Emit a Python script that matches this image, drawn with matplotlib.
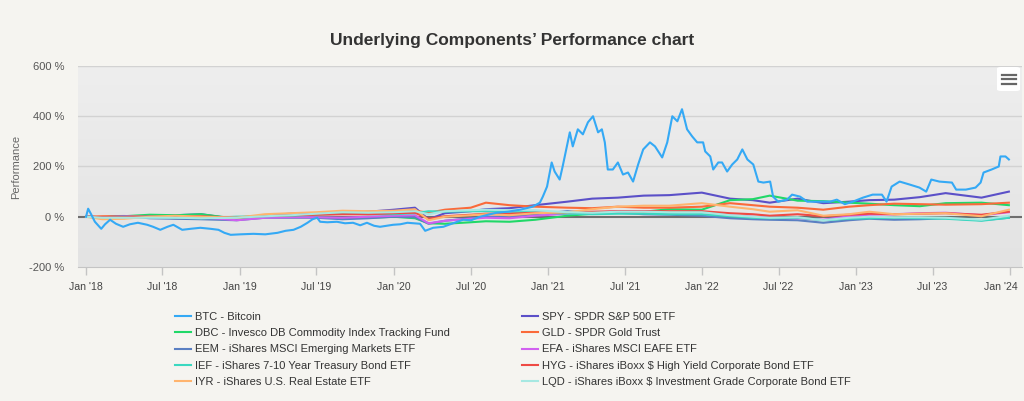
import numpy as np
import pandas as pd
import matplotlib
matplotlib.use("Agg")
import matplotlib.pyplot as plt
import matplotlib.dates as mdates
import matplotlib.transforms as mtransforms
from matplotlib.patches import FancyBboxPatch
from matplotlib.lines import Line2D

plt.rcParams["font.family"] = ["Liberation Sans", "DejaVu Sans"]

title = "Underlying Components\u2019 Performance chart"
y_label = "Performance"
y_ticks = [-200, 0, 200, 400, 600]

# Bitcoin (% since Jan 2018)
btc_dates = [
    "2018-01-01", "2018-01-06", "2018-01-13", "2018-01-22", "2018-02-06", "2018-02-15",
    "2018-02-27", "2018-03-13", "2018-03-30", "2018-04-15", "2018-05-04", "2018-05-26",
    "2018-06-09", "2018-06-26", "2018-07-13", "2018-07-27", "2018-08-17", "2018-09-06",
    "2018-09-29", "2018-10-23", "2018-11-11", "2018-11-25", "2018-12-10", "2019-01-02",
    "2019-02-02", "2019-03-02", "2019-03-31", "2019-04-19", "2019-05-08", "2019-05-25",
    "2019-06-10", "2019-06-22", "2019-07-03", "2019-07-10", "2019-07-27", "2019-08-19",
    "2019-09-07", "2019-09-26", "2019-10-13", "2019-10-29", "2019-11-15", "2019-11-29",
    "2019-12-30", "2020-01-16", "2020-02-02", "2020-02-16", "2020-03-03", "2020-03-15",
    "2020-04-03", "2020-04-27", "2020-05-20", "2020-06-13", "2020-07-02", "2020-07-23",
    "2020-08-16", "2020-09-01", "2020-09-27", "2020-10-26", "2020-11-25", "2020-12-12",
    "2020-12-19", "2020-12-29", "2021-01-09", "2021-01-16", "2021-01-28", "2021-02-04",
    "2021-02-14", "2021-02-21", "2021-02-28", "2021-03-12", "2021-03-24", "2021-04-05",
    "2021-04-17", "2021-04-29", "2021-05-08", "2021-05-15", "2021-05-22", "2021-06-03",
    "2021-06-15", "2021-06-27", "2021-07-09", "2021-07-21", "2021-08-02", "2021-08-14",
    "2021-08-30", "2021-09-11", "2021-09-28", "2021-10-10", "2021-10-22", "2021-11-03",
    "2021-11-14", "2021-11-26", "2021-12-08", "2021-12-20", "2022-01-03", "2022-01-08",
    "2022-01-20", "2022-01-27", "2022-02-08", "2022-02-17", "2022-03-01", "2022-03-13",
    "2022-03-25", "2022-04-06", "2022-04-18", "2022-05-02", "2022-05-14", "2022-05-26",
    "2022-06-11", "2022-06-18", "2022-06-30", "2022-07-21", "2022-08-02", "2022-08-21",
    "2022-09-07", "2022-10-07", "2022-10-31", "2022-11-16", "2022-12-05", "2022-12-24",
    "2023-01-17", "2023-02-09", "2023-03-03", "2023-03-14", "2023-03-26", "2023-04-14",
    "2023-05-08", "2023-05-31", "2023-06-16", "2023-06-28", "2023-07-17", "2023-08-16",
    "2023-08-26", "2023-09-18", "2023-10-11", "2023-10-23", "2023-10-30", "2023-11-18",
    "2023-12-05", "2023-12-09", "2023-12-21", "2023-12-29",
]
btc_values = [
    0, 32, 10, -20, -48, -30,
    -12, -28, -40, -30, -24, -32,
    -40, -52, -40, -32, -52, -48,
    -44, -48, -52, -64, -72, -70,
    -68, -70, -64, -56, -52, -40,
    -24, -10, -4, -20, -22, -20,
    -26, -24, -34, -24, -36, -40,
    -32, -30, -24, -26, -28, -56,
    -44, -40, -26, -12, -14, 0,
    10, 16, 20, 28, 40, 56,
    80, 120, 216, 180, 148, 200,
    280, 336, 280, 348, 328, 376,
    400, 336, 348, 296, 188, 188,
    216, 168, 176, 140, 208, 268,
    296, 280, 236, 296, 400, 380,
    428, 348, 320, 296, 296, 260,
    240, 188, 216, 216, 180, 208,
    228, 268, 228, 208, 140, 136,
    140, 80, 60, 68, 88, 80,
    60, 60, 60, 68, 50, 60,
    76, 88, 88, 60, 120, 140,
    128, 116, 100, 148, 140, 136,
    108, 108, 116, 136, 176, 188,
    200, 240, 240, 228,
]

# ETFs on a coarser common date grid
etf_dates = [
    "2018-01-01", "2018-02-09", "2018-04-01", "2018-06-01", "2018-08-01", "2018-10-01",
    "2018-12-24", "2019-03-01", "2019-05-01", "2019-07-01", "2019-09-01", "2019-11-01",
    "2020-01-01", "2020-02-20", "2020-03-23", "2020-05-01", "2020-07-01", "2020-08-06",
    "2020-10-01", "2020-12-01", "2021-02-15", "2021-04-15", "2021-06-15", "2021-08-15",
    "2021-10-15", "2021-12-31", "2022-03-08", "2022-05-01", "2022-06-10", "2022-08-15",
    "2022-10-15", "2022-12-15", "2023-02-01", "2023-04-01", "2023-06-01", "2023-08-01",
    "2023-10-25", "2023-12-29",
]
spy_values = [0, -2, -2, 2, 6, 10, -10, 6, 12, 14, 14, 20, 28, 36, -10, 14, 22, 30, 34,
              46, 60, 72, 76, 84, 86, 96, 72, 66, 56, 72, 54, 60, 66, 68, 78, 94, 76, 100]
dbc_values = [0, -2, 2, 8, 6, 10, -8, 0, 2, -2, -6, -4, 0, -6, -26, -28, -22, -18, -20,
              -12, 4, 12, 20, 20, 30, 28, 66, 70, 84, 64, 62, 56, 52, 46, 42, 54, 56, 46]
gld_values = [0, 2, 3, 0, -6, -7, -2, 2, 0, 10, 18, 16, 18, 24, 16, 28, 36, 56, 46,
              40, 36, 34, 40, 36, 36, 40, 54, 46, 40, 36, 28, 40, 46, 52, 50, 48, 50, 56]
eem_values = [0, -2, 2, -6, -8, -10, -14, -4, -4, -4, -10, -6, 0, -2, -28, -16, -6, 0, 2,
              10, 22, 16, 16, 10, 8, 4, -6, -10, -12, -14, -24, -14, -8, -12, -10, -6, -14, -4]
efa_values = [0, -2, 0, 0, -2, -2, -14, -4, -2, -2, -4, 0, 4, 6, -26, -16, -8, -4, -6,
              4, 12, 16, 22, 22, 18, 20, 6, 0, -4, -6, -12, 2, 8, 10, 14, 16, 6, 18]
ief_values = [0, -4, -2, -2, -4, -6, 0, 2, 4, 8, 12, 10, 10, 14, 22, 20, 22, 22, 20,
              18, 12, 10, 12, 12, 10, 10, 2, -4, -6, -4, -14, -8, -6, -4, -6, -8, -16, -4]
hyg_values = [0, -2, -2, 0, 2, 2, -4, 4, 6, 8, 10, 10, 14, 16, -8, 2, 8, 12, 12,
              16, 18, 20, 22, 22, 22, 22, 14, 10, 4, 10, 2, 8, 12, 10, 12, 14, 8, 20]
iyr_values = [0, -10, -8, 0, 4, 0, -4, 10, 14, 18, 24, 22, 24, 30, -14, 0, 6, 10, 6,
              14, 18, 30, 40, 44, 44, 54, 40, 30, 20, 26, 4, 10, 20, 10, 12, 14, 2, 28]
lqd_values = [0, -4, -4, -4, -4, -6, -4, 2, 6, 12, 18, 16, 18, 22, 10, 22, 26, 28, 26,
              26, 18, 16, 20, 20, 18, 18, 6, 0, -4, -2, -14, -4, 0, -2, -2, -4, -12, 4]

# label, colour, dates, values  (draw order: BTC last so it sits on top)
series = {
    "SPY": ("SPY - SPDR S&P 500 ETF", "#5b50c8", etf_dates, spy_values),
    "DBC": ("DBC - Invesco DB Commodity Index Tracking Fund", "#20d868", etf_dates, dbc_values),
    "GLD": ("GLD - SPDR Gold Trust", "#fa6a3a", etf_dates, gld_values),
    "EEM": ("EEM - iShares MSCI Emerging Markets ETF", "#5a7fc2", etf_dates, eem_values),
    "EFA": ("EFA - iShares MSCI EAFE ETF", "#d160f0", etf_dates, efa_values),
    "IEF": ("IEF - iShares 7-10 Year Treasury Bond ETF", "#3ad8c0", etf_dates, ief_values),
    "HYG": ("HYG - iShares iBoxx $ High Yield Corporate Bond ETF", "#ee4a44", etf_dates, hyg_values),
    "IYR": ("IYR - iShares U.S. Real Estate ETF", "#ffb46e", etf_dates, iyr_values),
    "LQD": ("LQD - iShares iBoxx $ Investment Grade Corporate Bond ETF", "#a6e8e2", etf_dates, lqd_values),
    "BTC": ("BTC - Bitcoin", "#34a9f5", btc_dates, btc_values),
}
left_col = ["BTC", "DBC", "EEM", "IEF", "IYR"]
right_col = ["SPY", "GLD", "EFA", "HYG", "LQD"]

bg = "#f5f4f0"
fig = plt.figure(figsize=(10.24, 4.01), dpi=100, facecolor=bg)
ax = fig.add_axes([0.0762, 0.3342, 0.9218, 0.5012])

# plot area gradient
grad = np.linspace(0, 1, 256).reshape(-1, 1)
cmap = matplotlib.colors.LinearSegmentedColormap.from_list("bg", ["#eeeeee", "#e3e3e3"])
ax.imshow(grad, cmap=cmap, extent=[0, 1, 0, 1], transform=ax.transAxes,
          aspect="auto", zorder=0)

for yv in [200, 400, 600]:
    ax.axhline(yv, color="#d2d2d2", lw=1, zorder=1)
ax.axhline(0, color="#6e6e6e", lw=1.5, zorder=1.5)

lines = {}
for key, (label, color, dates, vals) in series.items():
    (ln,) = ax.plot(pd.to_datetime(dates), vals, color=color, lw=1.5,
                    solid_joinstyle="round", zorder=3 if key == "BTC" else 2)
    lines[key] = ln

ax.set_xlim(pd.Timestamp("2017-12-13"), pd.Timestamp("2024-01-29"))
ax.set_ylim(-200, 600)
ax.set_yticks(y_ticks)
ax.set_yticklabels([f"{v} %" for v in y_ticks])
ax.xaxis.set_major_locator(mdates.MonthLocator(bymonth=[1, 7]))
ax.xaxis.set_major_formatter(mdates.DateFormatter("%b '%y"))

for s in ["top", "right", "left"]:
    ax.spines[s].set_visible(False)
ax.spines["bottom"].set_color("#c4c4c4")
ax.spines["bottom"].set_zorder(4)
ax.tick_params(axis="y", length=0, pad=10, labelsize=8, labelcolor="#555555")
ax.tick_params(axis="x", length=6, width=1, color="#c4c4c4", pad=5,
               labelsize=7.6, labelcolor="#444444")
ax.set_ylabel(y_label, fontsize=8, color="#666666")
ax.yaxis.set_label_coords(-0.06, 0.5)

# keep the last date label inside the figure, like the original
fig.canvas.draw()
last = ax.get_xticklabels()[-1]
last.set_horizontalalignment("right")
last.set_transform(last.get_transform() +
                   mtransforms.ScaledTranslation(8 / 100, 0, fig.dpi_scale_trans))

fig.text(0.5, 0.90, title, ha="center", va="center", fontsize=12.5,
         fontweight="bold", color="#333333")

# legend: two columns
for keys, xpos in [(left_col, 0.1705), (right_col, 0.5095)]:
    fig.legend([lines[k] for k in keys], [series[k][0] for k in keys],
               loc="upper left", bbox_to_anchor=(xpos, 0.223), frameon=False,
               fontsize=8, labelcolor="#333333", handlelength=1.5,
               handletextpad=0.35, labelspacing=0.58, borderpad=0,
               borderaxespad=0)

# export menu button
box = FancyBboxPatch((997 / 1024, 1 - 91 / 401), 23 / 1024, 24 / 401,
                     boxstyle="round,pad=0,rounding_size=0.004",
                     transform=fig.transFigure, facecolor="white",
                     edgecolor="none", zorder=5)
fig.patches.append(box)
for yy in [74.5, 79, 83.5]:
    fig.lines.append(Line2D([1002 / 1024, 1016 / 1024], [1 - yy / 401] * 2,
                            transform=fig.transFigure, color="#666666",
                            lw=1.6, zorder=6))

fig.savefig("out.png", dpi=100, facecolor=bg)
